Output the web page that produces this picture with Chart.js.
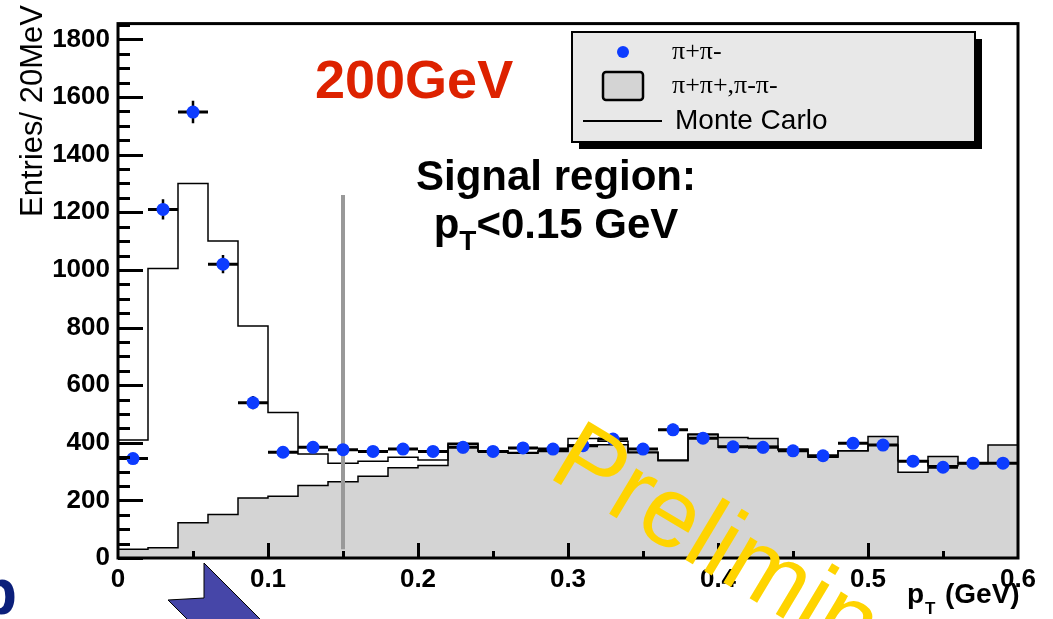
<!DOCTYPE html>
<html>
<head>
<meta charset="utf-8">
<script src="https://cdn.jsdelivr.net/npm/chart.js@4.4.1/dist/chart.umd.min.js"></script>
<style>
  html, body { margin: 0; padding: 0; background: #fff; }
  #wrap { width: 1053px; height: 619px; }
</style>
</head>
<body>
<div id="wrap"><canvas id="ptChart" width="1053" height="619"></canvas></div>
<script>
// pair pT spectrum, 20 MeV bins from 0 to 0.6 GeV
const BIN_WIDTH = 0.02;
const PT_MIN = 0;
const PT_MAX = 0.6;
const Y_MAX = 1855;
const xTickLabels = ["0", "0.1", "0.2", "0.3", "0.4", "0.5", "0.6"];

// pi+pi- (unlike sign) counts per bin and their errors
const unlikeSign = [345, 1210, 1548, 1020, 539, 367, 384, 376, 370, 378,
                    370, 384, 370, 382, 378, 390, 413, 378, 445, 416,
                    386, 384, 372, 355, 398, 392, 336, 315, 329, 329];
const unlikeErr = [19, 35, 39, 32, 23, 19, 20, 19, 19, 19,
                   19, 20, 19, 20, 19, 20, 20, 19, 21, 20,
                   20, 20, 19, 19, 20, 20, 18, 18, 18, 18];

// pi+pi+, pi-pi- (like sign) background
const likeSign = [30, 36, 122, 151, 208, 214, 252, 265, 284, 313,
                  321, 395, 370, 364, 370, 392, 393, 365, 338, 428,
                  418, 415, 375, 350, 372, 422, 298, 352, 330, 392];

// Monte Carlo
const monteCarlo = [410, 1005, 1300, 1100, 805, 505, 361, 329, 336, 350,
                    340, 398, 372, 366, 372, 415, 405, 368, 340, 430,
                    384, 388, 378, 352, 372, 392, 338, 320, 328, 330];

// signal region cut line
const SIGNAL_CUT = 0.15;
const SIGNAL_LINE_RANGE = [30, 1260];

const SANS = "'Liberation Sans', Arial, Helvetica, sans-serif";
const SERIF = "'Liberation Serif', 'Times New Roman', serif";

// step histogram: one point per left bin edge plus the closing right edge
function histPoints(values) {
    const pts = values.map((v, i) => ({ x: i * BIN_WIDTH, y: v }));
    pts.push({ x: values.length * BIN_WIDTH, y: values[values.length - 1] });
    return pts;
}

const dataPoints = unlikeSign.map((v, i) => ({ x: (i + 0.5) * BIN_WIDTH, y: v }));

const decorations = {
    id: "decorations",

    beforeDatasetDraw(chart, args) {
        if (args.index !== 2) return;
        const { ctx, chartArea } = chart;
        const x = chart.scales.x;
        const y = chart.scales.y;

        ctx.save();
        ctx.beginPath();
        ctx.rect(chartArea.left, chartArea.top, chartArea.width, chartArea.height);
        ctx.clip();

        // signal region marker
        ctx.strokeStyle = "#999999";
        ctx.lineWidth = 4;
        ctx.beginPath();
        ctx.moveTo(x.getPixelForValue(SIGNAL_CUT), y.getPixelForValue(SIGNAL_LINE_RANGE[0]));
        ctx.lineTo(x.getPixelForValue(SIGNAL_CUT), y.getPixelForValue(SIGNAL_LINE_RANGE[1]));
        ctx.stroke();

        // error bars of the data points
        ctx.strokeStyle = "#000";
        unlikeSign.forEach((v, i) => {
            const yp = y.getPixelForValue(v);
            ctx.lineWidth = 3;
            ctx.beginPath();
            ctx.moveTo(x.getPixelForValue(i * BIN_WIDTH), yp);
            ctx.lineTo(x.getPixelForValue((i + 1) * BIN_WIDTH), yp);
            ctx.stroke();
            const xp = x.getPixelForValue((i + 0.5) * BIN_WIDTH);
            ctx.lineWidth = 2.5;
            ctx.beginPath();
            ctx.moveTo(xp, y.getPixelForValue(v - unlikeErr[i]));
            ctx.lineTo(xp, y.getPixelForValue(v + unlikeErr[i]));
            ctx.stroke();
        });
        ctx.restore();
    },

    afterDatasetsDraw(chart) {
        const { ctx, chartArea } = chart;
        const x = chart.scales.x;
        const y = chart.scales.y;
        ctx.save();
        ctx.strokeStyle = "#000";

        // y ticks every 50, long ones every 200
        ctx.lineWidth = 3;
        for (let k = 0; k * 50 < Y_MAX; k++) {
            const yp = Math.round(y.getPixelForValue(k * 50)) + 0.5;
            const len = k % 4 === 0 ? 25 : 12;
            ctx.beginPath();
            ctx.moveTo(chartArea.left, yp);
            ctx.lineTo(chartArea.left + len, yp);
            ctx.stroke();
        }
        // x ticks every 0.05, long ones every 0.1
        for (let k = 1; k < 12; k++) {
            const xp = Math.round(x.getPixelForValue(k * 0.05)) + 0.5;
            const len = k % 2 === 0 ? 15 : 7;
            ctx.beginPath();
            ctx.moveTo(xp, chartArea.bottom);
            ctx.lineTo(xp, chartArea.bottom - len);
            ctx.stroke();
        }

        // frame
        ctx.lineWidth = 3;
        ctx.strokeRect(chartArea.left, chartArea.top, chartArea.width, chartArea.height);
        ctx.restore();
    },

    afterDraw(chart) {
        const { ctx } = chart;
        ctx.save();

        // axis titles
        ctx.fillStyle = "#000";
        ctx.save();
        ctx.translate(42, 5);
        ctx.rotate(-Math.PI / 2);
        ctx.font = "31px " + SANS;
        ctx.textAlign = "right";
        ctx.textBaseline = "alphabetic";
        ctx.fillText("Entries/ 20MeV", 0, 0);
        ctx.restore();

        ctx.textAlign = "left";
        ctx.textBaseline = "alphabetic";
        ctx.font = "bold 28px " + SANS;
        ctx.fillText("p", 907, 603);
        ctx.font = "bold 17px " + SANS;
        ctx.fillText("T", 925, 614);
        ctx.font = "bold 28px " + SANS;
        ctx.fillText("(GeV)", 945, 603);

        // energy label
        ctx.fillStyle = "#dd2200";
        ctx.font = "bold 54px " + SANS;
        ctx.fillText("200GeV", 315, 98);

        // signal region note
        ctx.fillStyle = "#000";
        ctx.font = "bold 42px " + SANS;
        ctx.textAlign = "center";
        ctx.fillText("Signal region:", 556, 190);
        ctx.textAlign = "left";
        const big = "bold 42px " + SANS;
        const small = "bold 28px " + SANS;
        ctx.font = big;
        const wP = ctx.measureText("p").width;
        const wRest = ctx.measureText("<0.15 GeV").width;
        ctx.font = small;
        const wT = ctx.measureText("T").width;
        const sx = 556 - (wP + wT + wRest) / 2;
        ctx.font = big;
        ctx.fillText("p", sx, 238);
        ctx.font = small;
        ctx.fillText("T", sx + wP, 250);
        ctx.font = big;
        ctx.fillText("<0.15 GeV", sx + wP + wT, 238);

        // legend
        ctx.fillStyle = "#000";
        ctx.fillRect(579, 39, 403, 110);
        ctx.fillStyle = "#e8e8e8";
        ctx.fillRect(572, 32, 403, 110);
        ctx.lineWidth = 2;
        ctx.strokeStyle = "#000";
        ctx.strokeRect(572, 32, 403, 110);

        ctx.fillStyle = "#0d3cff";
        ctx.beginPath();
        ctx.arc(623, 52, 6, 0, Math.PI * 2);
        ctx.fill();

        ctx.fillStyle = "#d4d4d4";
        ctx.lineWidth = 2.5;
        ctx.beginPath();
        ctx.roundRect(603, 72, 40, 28, 3);
        ctx.fill();
        ctx.stroke();

        ctx.lineWidth = 2;
        ctx.beginPath();
        ctx.moveTo(583, 121);
        ctx.lineTo(662, 121);
        ctx.stroke();

        ctx.fillStyle = "#000";
        ctx.textBaseline = "middle";
        ctx.font = "26px " + SERIF;
        ctx.fillText("\u03c0+\u03c0-", 672, 52);
        ctx.fillText("\u03c0+\u03c0+,\u03c0-\u03c0-", 672, 86);
        ctx.font = "28px " + SANS;
        ctx.fillText("Monte Carlo", 675, 121);

        // slide decorations below the plot
        ctx.fillStyle = "#4646a8";
        ctx.strokeStyle = "#000";
        ctx.lineWidth = 1;
        ctx.beginPath();
        ctx.moveTo(204, 563);
        ctx.lineTo(266, 625);
        ctx.lineTo(193, 625);
        ctx.lineTo(168, 600);
        ctx.lineTo(204, 598);
        ctx.closePath();
        ctx.fill();
        ctx.stroke();

        ctx.fillStyle = "#0b1f7a";
        ctx.textBaseline = "alphabetic";
        ctx.font = "bold 64px " + SANS;
        ctx.fillText("p", -22, 614);

        // watermark
        ctx.save();
        ctx.translate(546, 476);
        ctx.rotate(31 * Math.PI / 180);
        ctx.fillStyle = "#ffd400";
        ctx.font = "100px " + SANS;
        ctx.fillText("Preliminary", 0, 0);
        ctx.restore();

        ctx.restore();
    }
};

new Chart(document.getElementById("ptChart"), {
    type: "scatter",
    data: {
        datasets: [
            {
                type: "line",
                label: "\u03c0+\u03c0+,\u03c0-\u03c0-",
                data: histPoints(likeSign),
                stepped: true,
                fill: "origin",
                backgroundColor: "#d4d4d4",
                borderColor: "#000",
                borderWidth: 1.5,
                pointRadius: 0,
                order: 3
            },
            {
                type: "line",
                label: "Monte Carlo",
                data: histPoints(monteCarlo),
                stepped: true,
                fill: false,
                borderColor: "#000",
                borderWidth: 1.5,
                pointRadius: 0,
                order: 2
            },
            {
                type: "scatter",
                label: "\u03c0+\u03c0-",
                data: dataPoints,
                pointRadius: 6.5,
                pointBackgroundColor: "#0d3cff",
                pointBorderWidth: 0,
                order: 1
            }
        ]
    },
    options: {
        responsive: false,
        animation: false,
        devicePixelRatio: 1,
        layout: { padding: { top: 20, right: 35, left: 0, bottom: 0 } },
        plugins: {
            legend: { display: false },
            tooltip: { enabled: false }
        },
        scales: {
            x: {
                type: "linear",
                min: PT_MIN,
                max: PT_MAX,
                grid: { display: false, drawTicks: false },
                border: { display: false },
                ticks: {
                    stepSize: 0.1,
                    maxRotation: 0,
                    padding: 6,
                    color: "#000",
                    font: { family: SANS, size: 26, weight: "bold" },
                    callback: (v) => xTickLabels[Math.round(v * 10)]
                },
                afterFit: (s) => { s.height = 61; }
            },
            y: {
                type: "linear",
                min: 0,
                max: Y_MAX,
                grid: { display: false, drawTicks: false },
                border: { display: false },
                ticks: {
                    stepSize: 200,
                    includeBounds: false,
                    padding: 8,
                    color: "#000",
                    font: { family: SANS, size: 26, weight: "bold" },
                    callback: (v) => (v % 200 === 0 ? String(v) : "")
                },
                afterFit: (s) => { s.width = 118; }
            }
        }
    },
    plugins: [decorations]
});
</script>
</body>
</html>
